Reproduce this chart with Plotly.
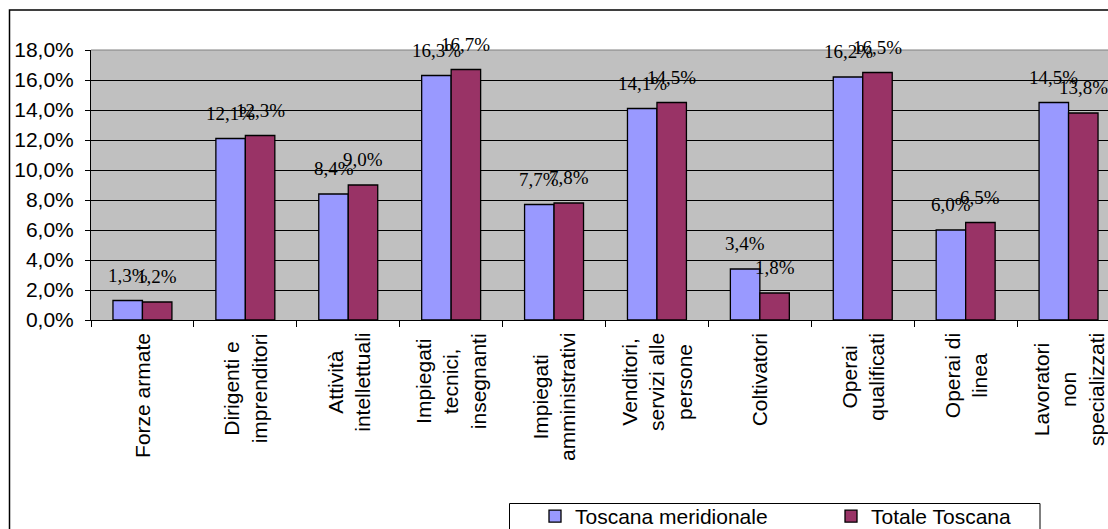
import plotly.graph_objects as go

# Professional groups (line breaks as shown under the axis)
categories = [
    "Forze armate",
    "Dirigenti e<br>imprenditori",
    "Attività<br>intellettuali",
    "Impiegati<br>tecnici,<br>insegnanti",
    "Impiegati<br>amministrativi",
    "Venditori,<br>servizi alle<br>persone",
    "Coltivatori",
    "Operai<br>qualificati",
    "Operai di<br>linea",
    "Lavoratori<br>non<br>specializzati",
]

# Share of workers by group, in percent
toscana_meridionale = [1.3, 12.1, 8.4, 16.3, 7.7, 14.1, 3.4, 16.2, 6.0, 14.5]
totale_toscana = [1.2, 12.3, 9.0, 16.7, 7.8, 14.5, 1.8, 16.5, 6.5, 13.8]

series_names = ["Toscana meridionale", "Totale Toscana"]
series_colors = ["#9999FF", "#993366"]
y_ticks = [0, 2, 4, 6, 8, 10, 12, 14, 16, 18]
y_tick_labels = ["0,0%", "2,0%", "4,0%", "6,0%", "8,0%", "10,0%", "12,0%", "14,0%", "16,0%", "18,0%"]

W, H = 1108, 529
M_L, M_R, M_T, M_B = 91, 0, 50, 209
PLOT_W = W - M_L - M_R
PLOT_H = H - M_T - M_B
CAT_W = 102.9            # pixel width of one category slot
BARGAP = 0.427
HALF = (1 - BARGAP) / 4  # offset of each bar centre from the slot centre

fig = go.Figure()
for name, vals, col in zip(series_names, [toscana_meridionale, totale_toscana], series_colors):
    fig.add_trace(go.Bar(
        name=name, x=categories, y=vals,
        marker=dict(color=col, line=dict(color="black", width=1.3)),
        hoverinfo="skip",
    ))

def fmt(v):
    return f"{v:.1f}%".replace(".", ",")

annotations = []
# value labels above each bar
for k, vals in enumerate([toscana_meridionale, totale_toscana]):
    off = -HALF if k == 0 else HALF
    for i, v in enumerate(vals):
        annotations.append(dict(
            x=i + off, y=v, xref="x", yref="y", text=fmt(v),
            showarrow=False, xanchor="center", yanchor="bottom", yshift=13,
            font=dict(family="Liberation Serif, Times New Roman, serif", size=19, color="black"),
        ))
# rotated category labels, lines centred on each other
for i, c in enumerate(categories):
    annotations.append(dict(
        x=i, y=0, xref="x", yref="y", text=c, textangle=-90, align="center",
        showarrow=False, xanchor="center", yanchor="top", yshift=-11,
        font=dict(family="Liberation Sans, Arial, sans-serif", size=21, color="black"),
    ))

def px_x(p):
    return (p - M_L) / PLOT_W

def px_y(p):
    return (H - M_B - p) / PLOT_H

shapes = [
    # chart frame
    dict(type="rect", xref="paper", yref="paper",
         x0=px_x(9.5), x1=px_x(1130), y0=px_y(10), y1=px_y(560),
         line=dict(color="black", width=1.5), fillcolor="rgba(0,0,0,0)", layer="above"),
    # legend frame
    dict(type="rect", xref="paper", yref="paper",
         x0=px_x(509.5), x1=px_x(1040), y0=px_y(503.5), y1=px_y(560),
         line=dict(color="black", width=1), fillcolor="rgba(0,0,0,0)", layer="above"),
    # plot-area top edge
    dict(type="line", xref="paper", yref="paper", x0=0, x1=1, y0=1, y1=1,
         line=dict(color="#808080", width=1), layer="above"),
]

fig.update_layout(
    width=W, height=H,
    margin=dict(l=M_L, r=M_R, t=M_T, b=M_B, autoexpand=False),
    paper_bgcolor="white", plot_bgcolor="#C0C0C0",
    barmode="group", bargap=BARGAP, bargroupgap=0,
    font=dict(family="Liberation Sans, Arial, sans-serif", size=21, color="black"),
    showlegend=True,
    legend=dict(
        orientation="h", x=px_x(509), y=px_y(496), xanchor="left", yanchor="top",
        xref="paper", yref="paper",
        borderwidth=0, bgcolor="rgba(0,0,0,0)",
        font=dict(family="Liberation Sans, Arial, sans-serif", size=21, color="black"),
        entrywidth=225, indentation=26, traceorder="normal",
    ),
    annotations=annotations,
    shapes=shapes,
)

fig.update_xaxes(
    type="category", range=[-0.5, -0.5 + PLOT_W / CAT_W],
    showticklabels=False, showgrid=False,
    showline=True, linecolor="black", linewidth=1,
    ticks="outside", tickson="boundaries", ticklen=6, tickcolor="black", tickwidth=1,
    fixedrange=True,
)
fig.update_yaxes(
    range=[0, 18], tickvals=y_ticks, ticktext=y_tick_labels,
    showgrid=True, gridcolor="black", gridwidth=1, zeroline=False,
    showline=True, linecolor="black", linewidth=1,
    ticks="outside", ticklen=5, tickcolor="black",
    ticklabelstandoff=7,
    tickfont=dict(family="Liberation Sans, Arial, sans-serif", size=21, color="black"),
    fixedrange=True,
)

fig.write_html("out.html")
